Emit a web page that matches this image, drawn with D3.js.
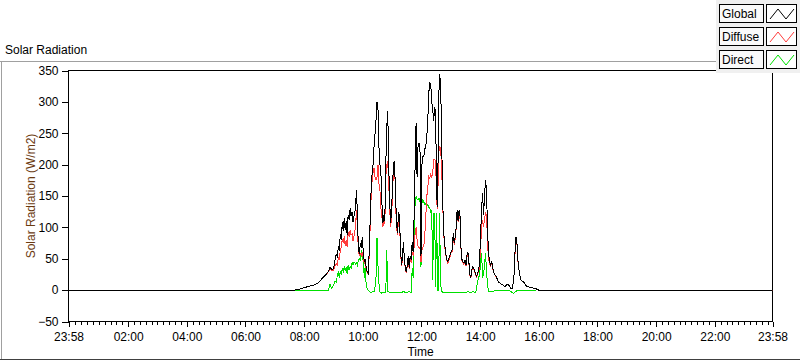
<!DOCTYPE html>
<html><head><meta charset="utf-8">
<script src="https://cdn.jsdelivr.net/npm/d3@7"></script>
<style>
body{margin:0;background:#fff;}
svg{display:block;}
text{font-family:"Liberation Sans",Arial,sans-serif;}
</style>
</head><body>
<svg id="chart" width="800" height="361"></svg>
<script>
const chartTitle = "Solar Radiation";
const yAxisTitle = "Solar Radiation (W/m2)";
const xAxisTitle = "Time";
const seriesNames = ["Global", "Diffuse", "Direct"];
const seriesColors = ["#000000", "#ff3c3c", "#00e000"];
const yTicks = [-50, 0, 50, 100, 150, 200, 250, 300, 350];
const xTickLabels = ["23:58","02:00","04:00","06:00","08:00","10:00","12:00","14:00","16:00","18:00","20:00","22:00","23:58"];

const times = ["23:58","07:40","07:48","07:55","08:00","08:10","08:20","08:30","08:35","08:40","08:45","08:50","08:53","08:56","09:00","09:03","09:06","09:08","09:10","09:12","09:14","09:16","09:18","09:20","09:22","09:24","09:26","09:28","09:30","09:32","09:34","09:36","09:38","09:40","09:42","09:45","09:47","09:49","09:51","09:53","09:55","09:57","09:59","10:01","10:03","10:05","10:07","10:09","10:11","10:13","10:15","10:17","10:19","10:21","10:23","10:25","10:27","10:29","10:31","10:33","10:35","10:37","10:39","10:41","10:43","10:45","10:47","10:49","10:51","10:53","10:55","10:57","10:59","11:01","11:03","11:05","11:07","11:09","11:11","11:13","11:15","11:17","11:19","11:21","11:23","11:25","11:27","11:29","11:31","11:33","11:35","11:37","11:39","11:41","11:43","11:45","11:47","11:49","11:51","11:53","11:55","11:57","11:59","12:01","12:03","12:05","12:07","12:09","12:11","12:13","12:15","12:17","12:19","12:21","12:23","12:25","12:27","12:29","12:31","12:33","12:35","12:37","12:39","12:41","12:43","12:45","12:47","12:49","12:51","12:54","12:57","13:00","13:03","13:05","13:07","13:09","13:11","13:13","13:15","13:17","13:19","13:21","13:23","13:25","13:27","13:29","13:31","13:33","13:35","13:37","13:39","13:41","13:43","13:45","13:47","13:49","13:51","13:53","13:55","13:57","13:59","14:01","14:03","14:05","14:07","14:09","14:11","14:13","14:15","14:17","14:19","14:21","14:24","14:27","14:30","14:33","14:36","14:39","14:42","14:45","14:48","14:51","14:54","14:57","15:00","15:03","15:06","15:09","15:11","15:13","15:15","15:17","15:19","15:21","15:24","15:27","15:30","15:33","15:36","15:40","15:45","15:50","15:55","16:00","23:58"];

const globalVals = [0,0,1,3,4,6,8,12,17,21,25,30,37,33,34,48,58,52,70,62,90,80,108,95,115,96,110,88,120,112,130,118,125,108,118,130,160,120,64,58,75,68,85,60,45,50,35,30,27,60,110,160,185,200,230,250,270,300,290,229,200,187,140,107,120,110,200,260,285,200,140,107,130,170,203,205,150,107,91,125,117,70,40,50,77,50,35,29,40,55,35,55,48,77,60,120,200,267,180,229,235,220,55,200,213,215,225,230,245,272,315,330,328,300,288,270,292,280,150,133,300,345,330,261,155,101,75,64,50,45,53,60,65,91,75,85,100,128,110,128,117,64,48,45,43,48,40,55,61,45,25,20,32,37,35,30,25,22,28,30,50,90,130,155,120,150,176,160,100,60,48,40,45,30,25,22,15,12,10,9,7,6,8,10,6,2,3,20,55,85,80,50,35,25,15,14,12,8,6,5,4,3,2,0,0];

const diffuseVals = [0,0,1,3,4,6,8,12,17,21,25,30,34,31,32,38,42,40,52,50,64,68,82,75,86,70,80,68,92,85,95,88,90,78,86,100,128,100,60,55,58,55,60,52,42,45,33,28,26,55,100,150,175,187,195,180,175,180,200,170,160,130,117,100,110,105,180,200,205,170,130,100,120,160,198,205,140,100,88,112,112,65,38,48,77,48,33,28,38,50,33,50,44,60,55,70,90,100,80,70,68,66,45,64,68,72,90,120,150,165,181,178,185,180,187,208,208,205,140,130,215,229,225,200,150,98,72,62,48,43,50,58,62,88,72,82,98,125,108,128,112,62,46,43,41,46,38,53,60,43,24,19,31,35,34,29,24,21,27,28,40,70,100,112,100,115,123,120,80,50,45,38,43,29,24,21,15,12,10,9,7,6,8,10,6,2,3,20,52,83,78,48,34,24,15,14,12,8,6,5,4,3,2,0,0];

const directVals = [0,0,0,0,0,0,0,0,0,0,0,0,10,3,8,14,12,25,28,20,30,25,35,28,38,30,36,25,40,32,38,35,44,40,45,42,44,40,48,50,46,64,55,45,20,40,5,3,0,-2,-3,-3,-3,-2,-3,5,20,83,40,10,-3,-4,-5,-4,-4,-3,-3,64,-2,-3,-4,-4,-3,-3,-4,-3,-3,-4,-4,-3,-3,-4,-3,-3,-2,-3,-3,-4,-3,-3,-2,-3,-3,35,20,90,140,149,145,144,146,140,37,138,144,140,136,138,135,136,132,130,125,128,16,123,120,5,123,0,0,123,10,-2,-3,-3,-3,-3,-4,-3,-3,-4,-3,-3,-3,-4,-3,-3,-3,-3,-3,-4,-3,-3,-3,-3,-3,-3,-2,-3,-3,-3,-3,-2,-3,-3,-3,5,15,20,25,45,59,20,25,40,59,30,11,-2,-2,-2,-2,-2,-1,-1,-1,-1,-1,-1,-1,-1,-1,-1,-1,-2,-4,-5,-3,-2,-1,-1,-1,-1,-1,0,0,0,0,0,0,0,0];

const svg = d3.select("#chart");
const L = 68.5, R = 772.5, T = 70.5, B = 321.5;

function toMin(s, i) {
  const [h, m] = s.split(":").map(Number);
  let v = h * 60 + m;
  if (i === 0 && v > 720) v -= 1440;
  return v;
}
const tMin = times.map(toMin);
const xDomain = [-2, 1438];
const x = d3.scaleLinear().domain(xDomain).range([L, R]);
const y = d3.scaleLinear().domain([-50, 350]).range([B, T]);

// outer frame
const frame = svg.append("g").attr("stroke", "#a0a0a0").attr("fill", "none");
frame.append("line").attr("x1", 0).attr("x2", 716).attr("y1", 61.5).attr("y2", 61.5);
frame.append("line").attr("x1", 1.5).attr("x2", 1.5).attr("y1", 61).attr("y2", 360);
svg.append("line").attr("x1", 0).attr("x2", 800).attr("y1", 359.5).attr("y2", 359.5).attr("stroke", "#404040");

svg.append("text").attr("x", 5).attr("y", 54).attr("font-size", 12).attr("fill", "#000").text(chartTitle);

// plot area
svg.append("rect").attr("x", L).attr("y", T).attr("width", R - L).attr("height", B - T)
  .attr("fill", "#fff").attr("stroke", "#000").attr("stroke-width", 1);

// y axis
const yAxis = d3.axisLeft(y).tickValues(yTicks).tickSize(7).tickPadding(3).tickFormat(d3.format("d"));
const gy = svg.append("g").attr("transform", `translate(${L},0)`).call(yAxis);
gy.select(".domain").remove();
gy.selectAll("line").attr("stroke", "#000").attr("shape-rendering", "crispEdges");
gy.selectAll("text").attr("font-size", 12).attr("fill", "#000").attr("font-family", "Liberation Sans, Arial, sans-serif");

// x axis major
const majorMins = xTickLabels.map((s, i) => i === 0 ? xDomain[0] : (i === xTickLabels.length - 1 ? xDomain[1] : toMin(s, i)));
const xAxis = d3.axisBottom(x).tickValues(majorMins).tickSize(5).tickPadding(6)
  .tickFormat((d, i) => xTickLabels[i]);
const gx = svg.append("g").attr("transform", `translate(0,${B})`).call(xAxis);
gx.select(".domain").remove();
gx.selectAll("line").attr("stroke", "#000").attr("shape-rendering", "crispEdges");
gx.selectAll("text").attr("font-size", 12).attr("fill", "#000").attr("font-family", "Liberation Sans, Arial, sans-serif");

// x minor ticks every 12 minutes
const minor = d3.range(12, 1440, 12).filter(m => m % 120 !== 0);
svg.append("g").selectAll("line").data(minor).join("line")
  .attr("x1", d => Math.round(x(d)) + 0.5).attr("x2", d => Math.round(x(d)) + 0.5)
  .attr("y1", B).attr("y2", B + 3).attr("stroke", "#000").attr("shape-rendering", "crispEdges");

// axis titles
svg.append("text").attr("transform", `translate(35,${(T + B) / 2}) rotate(-90)`)
  .attr("text-anchor", "middle").attr("font-size", 12).attr("fill", "#6b3a10").text(yAxisTitle);
svg.append("text").attr("x", (L + R) / 2).attr("y", 356).attr("text-anchor", "middle")
  .attr("font-size", 12).attr("fill", "#000").text(xAxisTitle);

// series
svg.append("clipPath").attr("id", "pc").append("rect")
  .attr("x", L).attr("y", T).attr("width", R - L).attr("height", B - T);
const seriesVals = [globalVals, diffuseVals, directVals];
const line = d3.line().x(d => x(d[0])).y(d => y(d[1]));
const plotG = svg.append("g").attr("clip-path", "url(#pc)");
[2, 1, 0].forEach(k => {
  const pts = tMin.map((t, i) => [t, seriesVals[k][i]]);
  plotG.append("path").datum(pts).attr("d", line)
    .attr("fill", "none").attr("stroke", seriesColors[k]).attr("stroke-width", 1)
    .attr("shape-rendering", "crispEdges");
});

// legend
const lg = svg.append("g");
lg.append("rect").attr("x", 716).attr("y", 0).attr("width", 84).attr("height", 73).attr("fill", "#f0f0f0");
seriesNames.forEach((name, i) => {
  const y0 = 4 + i * 23;
  lg.append("rect").attr("x", 719.5).attr("y", y0 + 0.5).attr("width", 44).attr("height", 18)
    .attr("fill", "#fafafa").attr("stroke", "#000");
  lg.append("text").attr("x", 722).attr("y", y0 + 14).attr("font-size", 12).attr("fill", "#000").text(name);
  lg.append("rect").attr("x", 766.5).attr("y", y0 + 0.5).attr("width", 30).attr("height", 18)
    .attr("fill", "#fff").attr("stroke", "#000");
  lg.append("path").attr("d", `M770,${y0 + 15}L778,${y0 + 5}L786,${y0 + 15}L794,${y0 + 5}`)
    .attr("fill", "none").attr("stroke", seriesColors[i]).attr("stroke-width", 1);
});
</script>
</body></html>
